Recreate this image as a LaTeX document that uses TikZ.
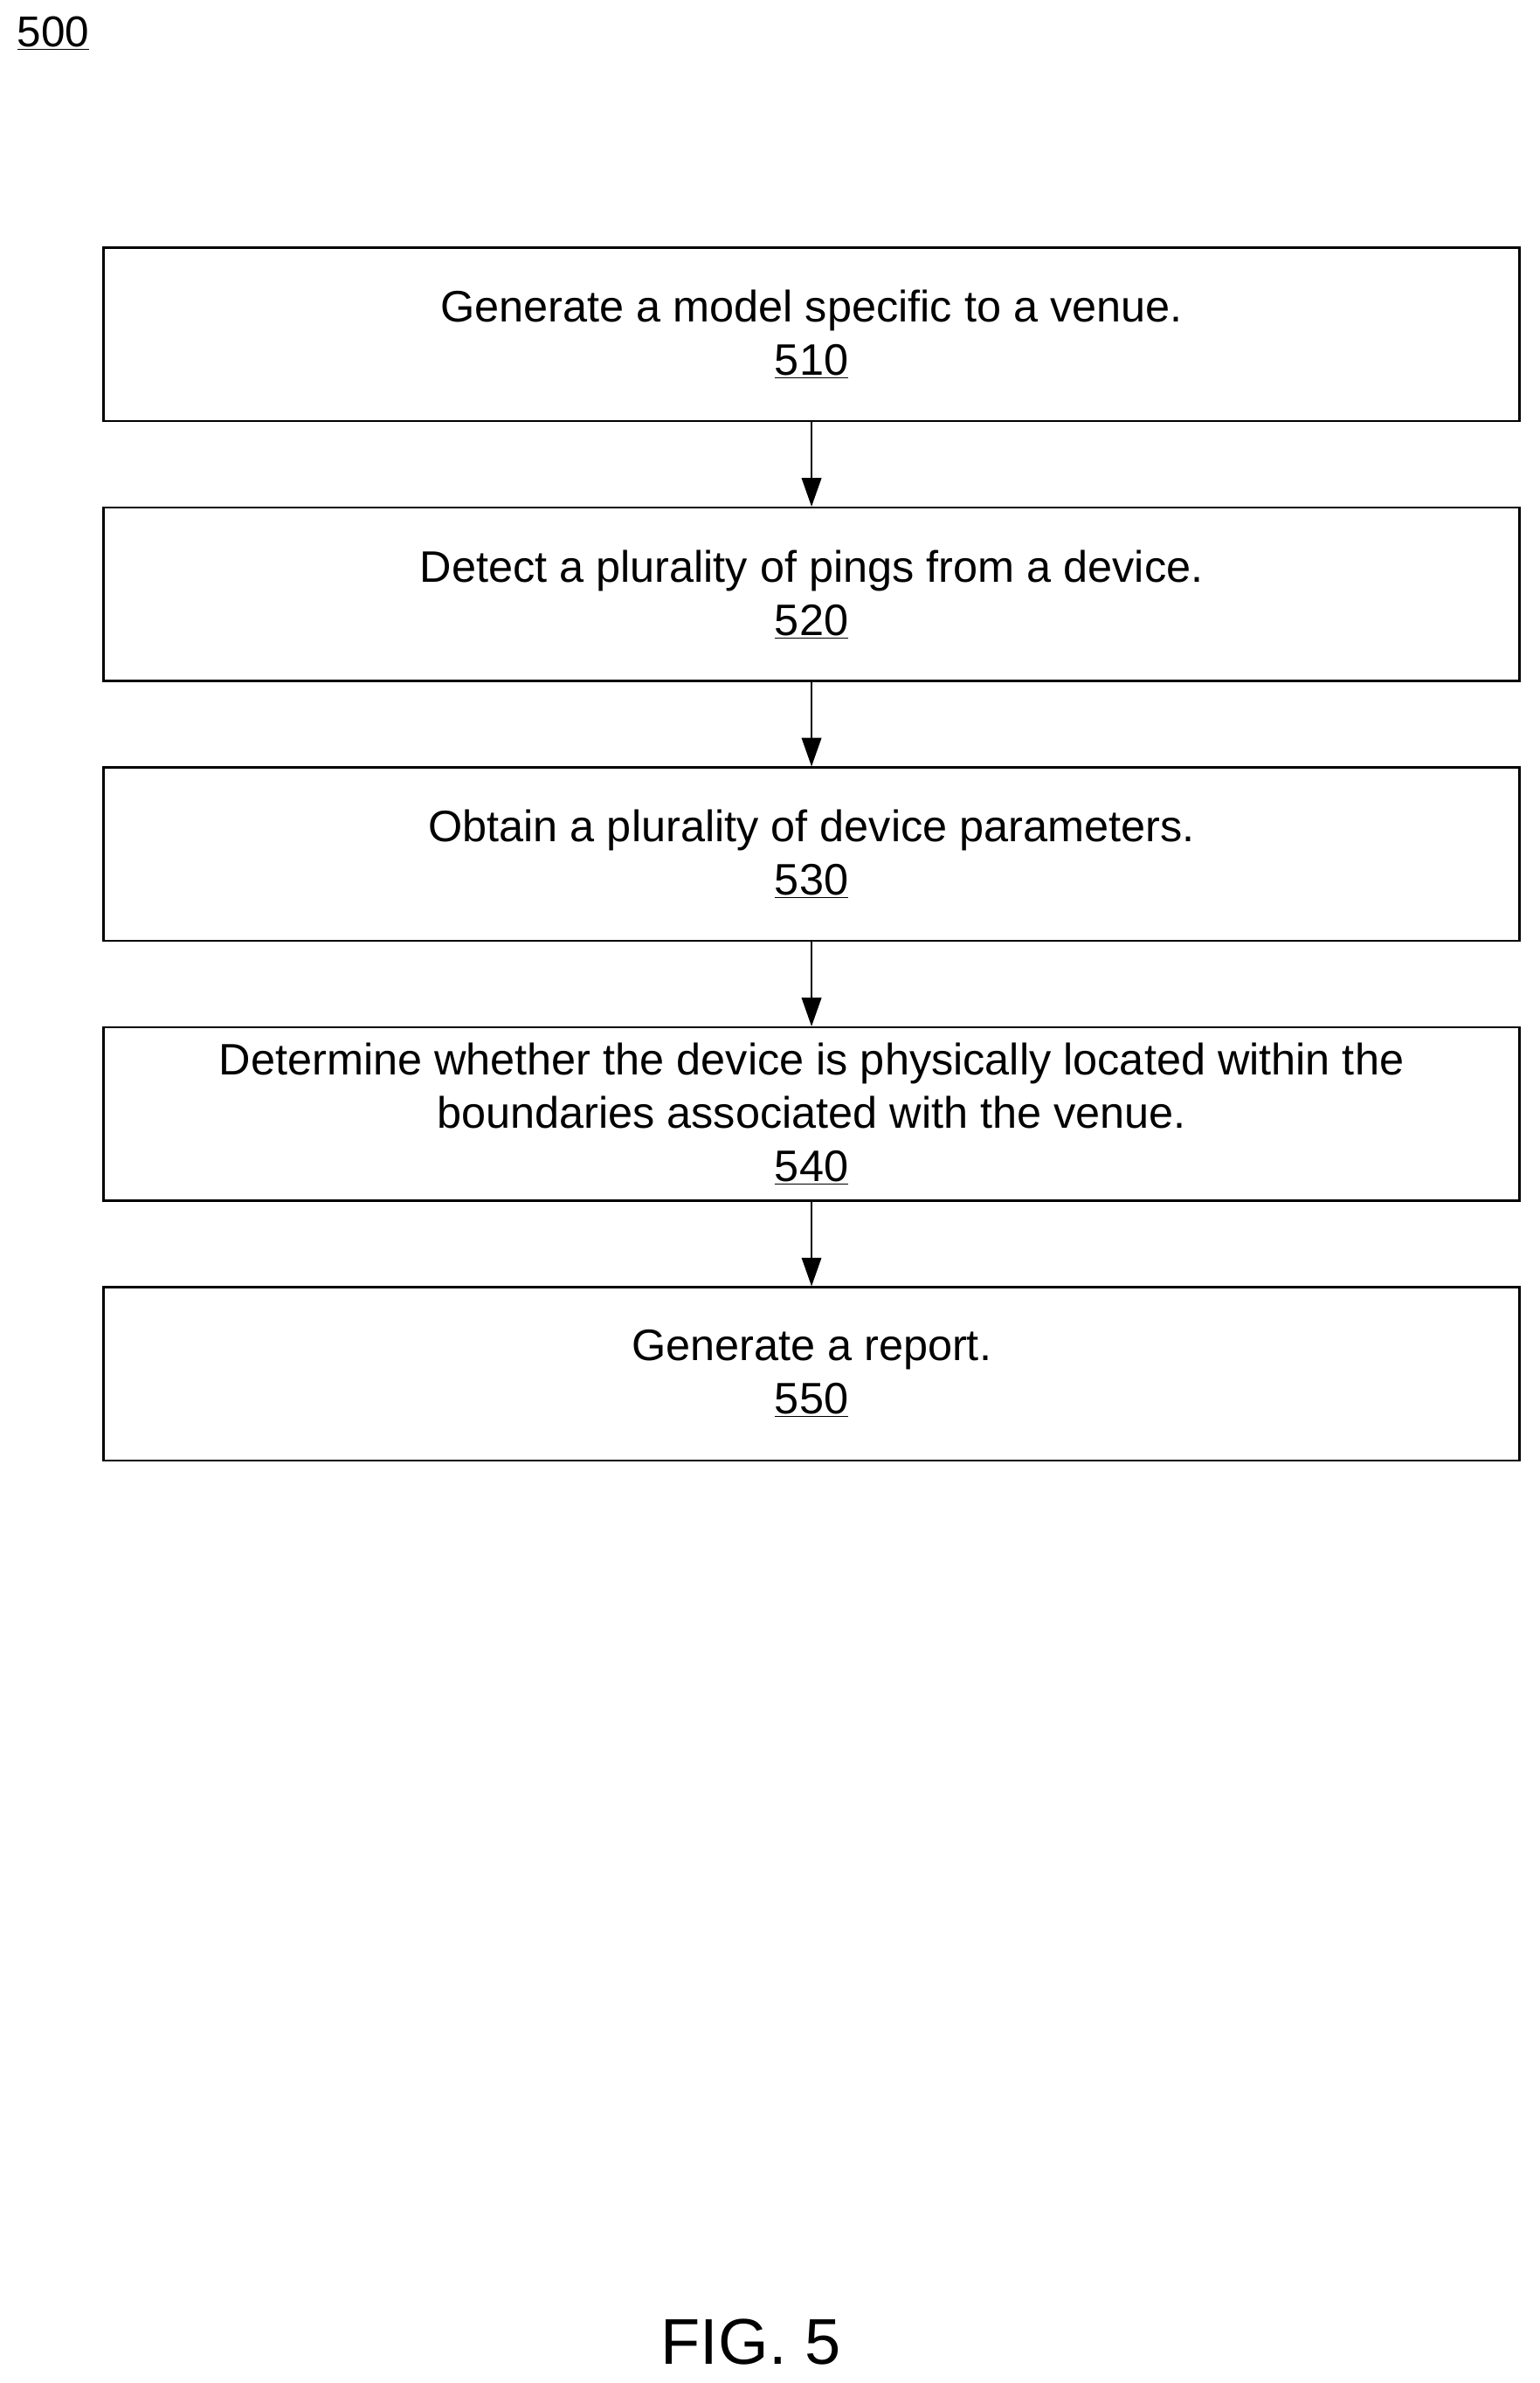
\documentclass[tikz,border=0pt]{standalone}
\usepackage{fontspec}
\setmainfont{Liberation Sans}
\usetikzlibrary{arrows.meta}
\begin{document}
\begin{tikzpicture}[x=1.0109pt,y=1.0109pt,
  box/.style={draw,line width=1.4pt,minimum width=942pt,minimum height=115.2pt,align=center,font=\fontsize{29.3}{35.4}\selectfont,inner sep=0pt},
  arr/.style={-{Triangle[length=19pt,width=13pt]},line width=1.4pt}]
\useasboundingbox (0,0) rectangle (1013,-1568);
\node[font=\fontsize{28.7}{34}\selectfont] (n500) at (35,-22) {\underline{500}};
\node[box] (b1) at (534,-220) {Generate a model specific to a venue.\\\underline{510}};
\node[box] (b2) at (534,-391) {Detect a plurality of pings from a device.\\\underline{520}};
\node[box] (b3) at (534,-562) {Obtain a plurality of device parameters.\\\underline{530}};
\node[box] (b4) at (534,-733) {Determine whether the device is physically located within the\\boundaries associated with the venue.\\\underline{540}};
\node[box] (b5) at (534,-904) {Generate a report.\\\underline{550}};
\draw[arr] (b1) -- (b2);
\draw[arr] (b2) -- (b3);
\draw[arr] (b3) -- (b4);
\draw[arr] (b4) -- (b5);
\node[font=\fontsize{43}{50}\selectfont] (fig) at (494,-1541) {FIG. 5};
\end{tikzpicture}
\end{document}
